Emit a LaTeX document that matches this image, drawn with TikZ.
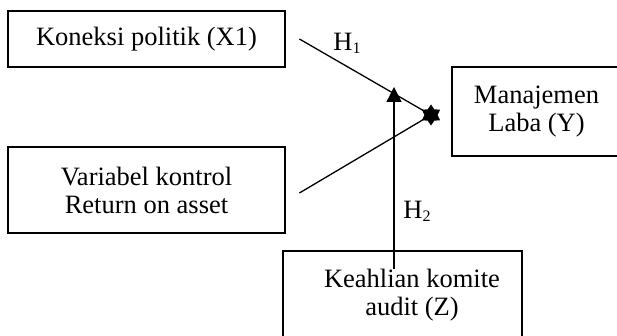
\documentclass[tikz,border=0pt]{standalone}
\usepackage{fontspec}
\setmainfont{Liberation Serif}
\usetikzlibrary{arrows.meta,shapes.geometric}
\newcommand\hsub[1]{\raisebox{-3pt}{\fontsize{16}{16}\selectfont #1}}
\tikzset{
  kotak/.style={draw, line width=2.8pt, align=center, inner sep=0pt},
  garis/.style={line width=1.3pt},
}

\begin{document}
\begin{tikzpicture}[x=1pt,y=-1pt,font=\fontsize{26.5}{28}\selectfont]
			%%%%% START %%%%%
			\useasboundingbox (0,0) rectangle (617,336);
			\clip (0,0) rectangle (617,336);
			
			\node[kotak, minimum width=277pt, minimum height=56pt] (koneksi) at (146.5,39) {Koneksi politik (X1)};
			\node[kotak, minimum width=277pt, minimum height=86pt] (kontrol) at (146.5,190) {Variabel kontrol\\Return on asset};
			\node[kotak, minimum width=169pt, minimum height=89pt] (laba) at (536.5,111.5) {Manajemen\\Laba (Y)};
			\node[kotak, minimum width=239pt, minimum height=94pt] (keahlian) at (402.5,298) {};
			\node[align=center, inner sep=0pt] (keahlianteks) at (412,295) {Keahlian komite\\audit (Z)};
			
			\node[star, star points=6, star point ratio=1.6, fill=black, inner sep=0pt, minimum size=21pt] (bintang) at (431,115) {};
			\coordinate (ujung) at (394,87);
			
			\draw[garis] ([xshift=13pt]koneksi.east) -- (bintang.center);
			\draw[garis] ([shift={(13,3)}]kontrol.east) -- (bintang.center);
			\draw[garis, -{Triangle[length=15pt,width=15pt]}] ([shift={(-8.5,19)}]keahlian.north) -- (ujung);
			
			\node (hsatu) at (347,43) {H\hsub{1}};
			\node (hdua) at (417,211) {H\hsub{2}};
			%%%%% END %%%%%
\end{tikzpicture}
\end{document}
